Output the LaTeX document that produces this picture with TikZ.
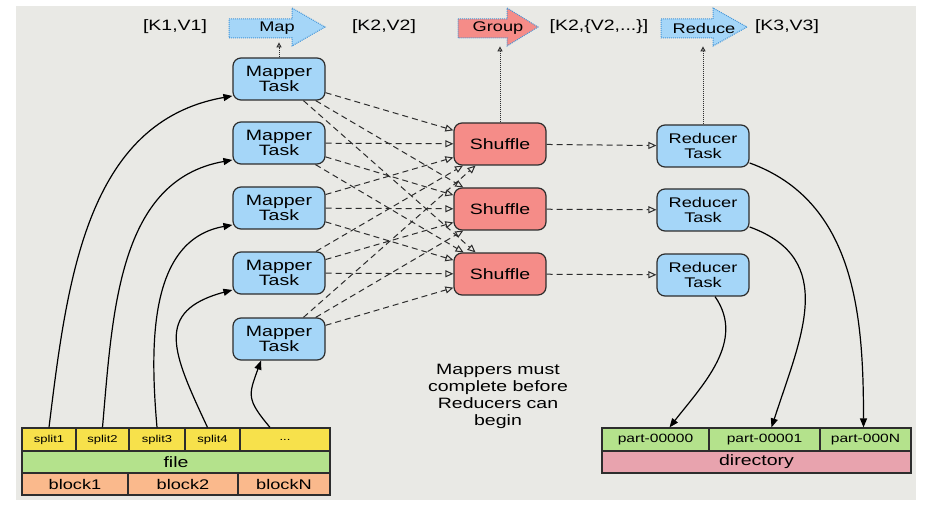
\documentclass[tikz,border=0pt]{standalone}
\usepackage{fontspec}
\setmainfont{Liberation Sans}[FakeStretch=1.3]
\usetikzlibrary{arrows.meta}
\definecolor{bggray}{RGB}{233,233,229}
\definecolor{taskblue}{RGB}{165,214,248}
\definecolor{shufred}{RGB}{245,140,136}
\definecolor{splityel}{RGB}{247,225,75}
\definecolor{filegrn}{RGB}{180,226,140}
\definecolor{blockorg}{RGB}{250,185,140}
\definecolor{dirpink}{RGB}{232,163,174}
\definecolor{dotblue}{RGB}{70,150,215}
\definecolor{edgegray}{RGB}{45,45,45}
\begin{document}
\begin{tikzpicture}[x=1pt, y=1pt, >={Triangle[length=9pt,width=7pt]}, line width=1.2pt,
    task/.style={draw=edgegray, fill=taskblue, rounded corners=8pt, minimum width=92pt, minimum height=42pt, align=center, font=\fontsize{15}{15}\selectfont},
    shuf/.style={task, fill=shufred},
    cell/.style={draw=edgegray, inner sep=0pt},
    flow/.style={draw=dotblue, densely dotted, line width=1pt},
    lbl/.style={font=\fontsize{15}{15}\selectfont},
    mix/.style={draw=edgegray, line width=1pt, dash pattern=on 6pt off 4pt, -{Triangle[open,length=8pt,width=7pt]}},
    up/.style={draw=edgegray, line width=1pt, densely dotted, -{Triangle[open,length=5pt,width=5pt]}}]
\useasboundingbox (0,0) rectangle (928,512);
% 背景
\fill[bggray] (16,12) rectangle (916,506);

% 顶部流程
\foreach \l/\h/\t/\c in {229/292/325/taskblue, 458/507/538/shufred, 661/713/747/taskblue}
  \draw[flow, fill=\c] (\l,493) -- (\h,493) -- (\h,504) -- (\t,485) -- (\h,466) -- (\h,474) -- (\l,474) -- cycle;
\node[font=\fontsize{14}{14}\selectfont] (map) at (277,484) {Map};
\node[font=\fontsize{14}{14}\selectfont] (grp) at (498,484) {Group};
\node[font=\fontsize{14}{14}\selectfont] (red) at (704,484) {Reduce};
\node[lbl] (kv1) at (175,485) {[K1,V1]};
\node[lbl] (kv2) at (384,485) {[K2,V2]};
\node[lbl] (kv2s) at (599,485) {[K2,\{V2,...\}]};
\node[lbl] (kv3) at (787,485) {[K3,V3]};

% 任务节点
\foreach \n/\y in {1/433,2/369,3/304,4/239,5/173}
  \node[task] (m\n) at (279,\y) {Mapper\\Task};
\foreach \n/\y in {1/368,2/303,3/238}
  \node[shuf] (s\n) at (500,\y) {Shuffle};
\foreach \n/\y in {1/366,2/302,3/237}
  \node[task, font=\fontsize{14}{15}\selectfont] (r\n) at (703,\y) {Reducer\\Task};

% 输入文件
\begin{scope}[every node/.style={cell, font=\fontsize{10}{10}\selectfont, minimum height=23pt, fill=splityel}]
  \node[minimum width=54pt] (sp1) at (49,72.5) {split1};
  \node[minimum width=53pt] (sp2) at (102.5,72.5) {split2};
  \node[minimum width=56pt] (sp3) at (157,72.5) {split3};
  \node[minimum width=55pt] (sp4) at (212.5,72.5) {split4};
  \node[minimum width=90pt] (spN) at (285,72.5) {...};
\end{scope}
\node[cell, fill=filegrn, minimum width=308pt, minimum height=22pt, font=\fontsize{15}{15}\selectfont] (file) at (176,50) {file};
\begin{scope}[every node/.style={cell, font=\fontsize{14}{14}\selectfont, minimum height=22pt, fill=blockorg}]
  \node[minimum width=106pt] (b1) at (75,28) {block1};
  \node[minimum width=110pt] (b2) at (183,28) {block2};
  \node[minimum width=92pt] (bN) at (284,28) {blockN};
\end{scope}

% 输出目录
\begin{scope}[every node/.style={cell, font=\fontsize{12}{12}\selectfont, minimum height=23pt, fill=filegrn}]
  \node[minimum width=107pt] (p0) at (655.5,72.5) {part-00000};
  \node[minimum width=111pt] (p1) at (764.5,72.5) {part-00001};
  \node[minimum width=91pt] (pN) at (865.5,72.5) {part-000N};
\end{scope}
\node[cell, fill=dirpink, minimum width=309pt, minimum height=22pt, font=\fontsize{15}{15}\selectfont] (dir) at (756.5,50) {directory};

\node[align=center, font=\fontsize{15}{17}\selectfont] (note) at (498,116) {Mappers must\\complete before\\Reducers can\\begin};

% 连线
\draw[->] (sp1.north) to[out=83,in=190] (m1.200);
\draw[->] (sp2.north) to[out=85,in=190] (m2.200);
\draw[->] (sp3.north) to[out=95,in=190] (m3.200);
\draw[->] ([xshift=-5pt]sp4.north) to[out=115,in=195,looseness=1.5] (m4.200);
\draw[->] ([xshift=-15pt]spN.north) to[out=130,in=-110,looseness=1.4] ([xshift=-18pt]m5.south);

\foreach \i in {1,...,5}
  \foreach \j in {1,2,3}
    \draw[mix] (m\i) -- (s\j);
\foreach \j in {1,2,3}
  \draw[mix] (s\j) -- (r\j);

\draw[up] (m1.north) -- ++(0,15);
\draw[up] (s1.north) -- ++(0,76);
\draw[up] (r1.north) -- ++(0,78);

\draw[->] (r1.340) to[out=-20,in=90] ([xshift=-2pt]pN.north);
\draw[->] (r2.340) to[out=-20,in=72,looseness=1.2] ([xshift=7pt]p1.north);
\draw[->] ([xshift=12pt]r3.south) to[out=-55,in=52] ([xshift=14pt]p0.north);
\end{tikzpicture}
\end{document}
